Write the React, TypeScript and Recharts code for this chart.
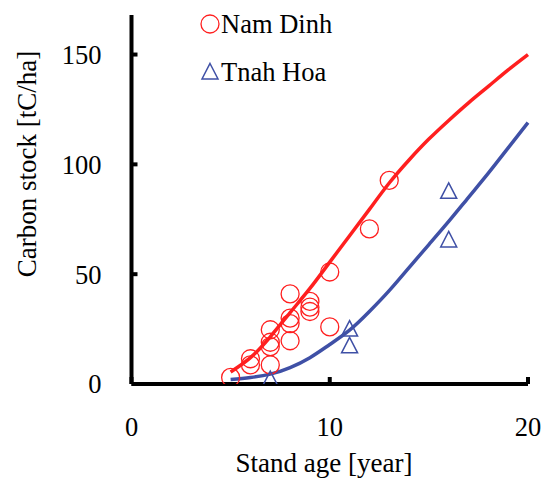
import { ComposedChart, Line, Scatter, XAxis, YAxis, Legend, Label } from 'recharts';

// observed plots (stand age, carbon stock)
const namDinhAge = [5, 6, 6, 7, 7, 7, 7, 8, 8, 8, 8, 9, 9, 9, 10, 10, 12, 13];
const namDinhStock = [3, 11.5, 8.7, 24.7, 19, 17, 8.7, 41, 30, 27.5, 19.7, 37.6, 35, 33, 51, 26, 70.6, 92.7];
const tnahHoaAge = [7, 11, 11, 16, 16];
const tnahHoaStock = [2, 25, 17.4, 87.7, 65.6];

// fitted growth curves
const curveAge = [5, 6, 7, 8, 9, 10, 11, 12, 13, 14, 15, 16, 17, 18, 19, 20];
const namDinhCurve = [5.5, 12, 21.5, 32.5, 43.5, 55.5, 67.5, 79.5, 91.5, 102, 111.5, 120, 128, 135.5, 143, 150];
const tnahHoaCurve = [2, 3, 4.5, 7.5, 12, 18, 24.5, 33, 42.5, 53, 63.5, 74, 85, 96, 107.5, 119];

const xTicks = [0, 10, 20];
const yTicks = [0, 50, 100, 150];

const RED = '#ff1f1f';
const BLUE = '#3f50a6';
const FONT = '"Liberation Serif", "Times New Roman", serif';

const namDinhPts = namDinhAge.map((a, i) => ({ age: a, stock: namDinhStock[i] }));
const tnahHoaPts = tnahHoaAge.map((a, i) => ({ age: a, stock: tnahHoaStock[i] }));
const redLine = curveAge.map((a, i) => ({ age: a, stock: namDinhCurve[i] }));
const blueLine = curveAge.map((a, i) => ({ age: a, stock: tnahHoaCurve[i] }));

const CircleMark = (p: any) => (
  <circle cx={p.cx} cy={p.cy} r={9} fill="none" stroke={RED} strokeWidth={1.3} />
);

const TriangleMark = (p: any) => (
  <path
    d={`M${p.cx},${p.cy - 8.5} L${p.cx + 8},${p.cy + 7} L${p.cx - 8},${p.cy + 7} Z`}
    fill="none"
    stroke={BLUE}
    strokeWidth={1.5}
  />
);

function LegendBox() {
  const row = { display: 'flex', alignItems: 'center', height: 24, marginBottom: 24, whiteSpace: 'nowrap' as const };
  return (
    <div style={{ fontFamily: FONT, fontSize: 26.5, color: '#000' }}>
      <div style={row}>
        <svg width={20} height={22} style={{ marginRight: 1 }}>
          <circle cx={10} cy={11} r={9} fill="none" stroke={RED} strokeWidth={1.3} />
        </svg>
        <span>Nam Dinh</span>
      </div>
      <div style={row}>
        <svg width={20} height={22} style={{ marginRight: 1 }}>
          <path d="M10,2.5 L18,18 L2,18 Z" fill="none" stroke={BLUE} strokeWidth={1.5} />
        </svg>
        <span>Tnah Hoa</span>
      </div>
    </div>
  );
}

export default function App() {
  return (
    <div style={{ position: 'absolute', left: 0, top: 0, background: '#fff' }}>
      <ComposedChart width={547} height={480} margin={{ top: 15, right: 19, bottom: 0, left: 31.5 }}>
        <XAxis
          dataKey="age"
          type="number"
          domain={[0, 20]}
          ticks={xTicks}
          height={96}
          axisLine={{ stroke: '#000', strokeWidth: 4 }}
          tickLine={{ stroke: '#000', strokeWidth: 4 }}
          tickSize={-7}
          tickMargin={40}
          tick={{ fill: '#000', fontFamily: FONT, fontSize: 26.5 }}
        >
          <Label
            content={() => (
              <text x={324} y={472} textAnchor="middle" fontFamily={FONT} fontSize={27} fill="#000">
                Stand age [year]
              </text>
            )}
          />
        </XAxis>
        <YAxis
          dataKey="stock"
          type="number"
          domain={[0, 168]}
          ticks={yTicks}
          width={100}
          allowDataOverflow
          axisLine={{ stroke: '#000', strokeWidth: 4 }}
          tickLine={{ stroke: '#000', strokeWidth: 4 }}
          tickSize={-6}
          tickMargin={36}
          tick={{ fill: '#000', fontFamily: FONT, fontSize: 26.5 }}
        >
          <Label
            content={() => (
              <text
                x={36}
                y={164}
                transform="rotate(-90 36 164)"
                textAnchor="middle"
                fontFamily={FONT}
                fontSize={27}
                fill="#000"
              >
                Carbon stock [tC/ha]
              </text>
            )}
          />
        </YAxis>
        <Legend
          layout="vertical"
          verticalAlign="middle"
          align="center"
          wrapperStyle={{ top: 12, left: 200, width: 180 }}
          content={() => <LegendBox />}
        />
        <Line
          data={redLine}
          dataKey="stock"
          type="natural"
          stroke={RED}
          strokeWidth={3.5}
          dot={false}
          activeDot={false}
          isAnimationActive={false}
          legendType="none"
        />
        <Line
          data={blueLine}
          dataKey="stock"
          type="natural"
          stroke={BLUE}
          strokeWidth={3.5}
          dot={false}
          activeDot={false}
          isAnimationActive={false}
          legendType="none"
        />
        <Scatter name="Nam Dinh" data={namDinhPts} dataKey="stock" shape={CircleMark} isAnimationActive={false} />
        <Scatter name="Tnah Hoa" data={tnahHoaPts} dataKey="stock" shape={TriangleMark} isAnimationActive={false} />
      </ComposedChart>
    </div>
  );
}
